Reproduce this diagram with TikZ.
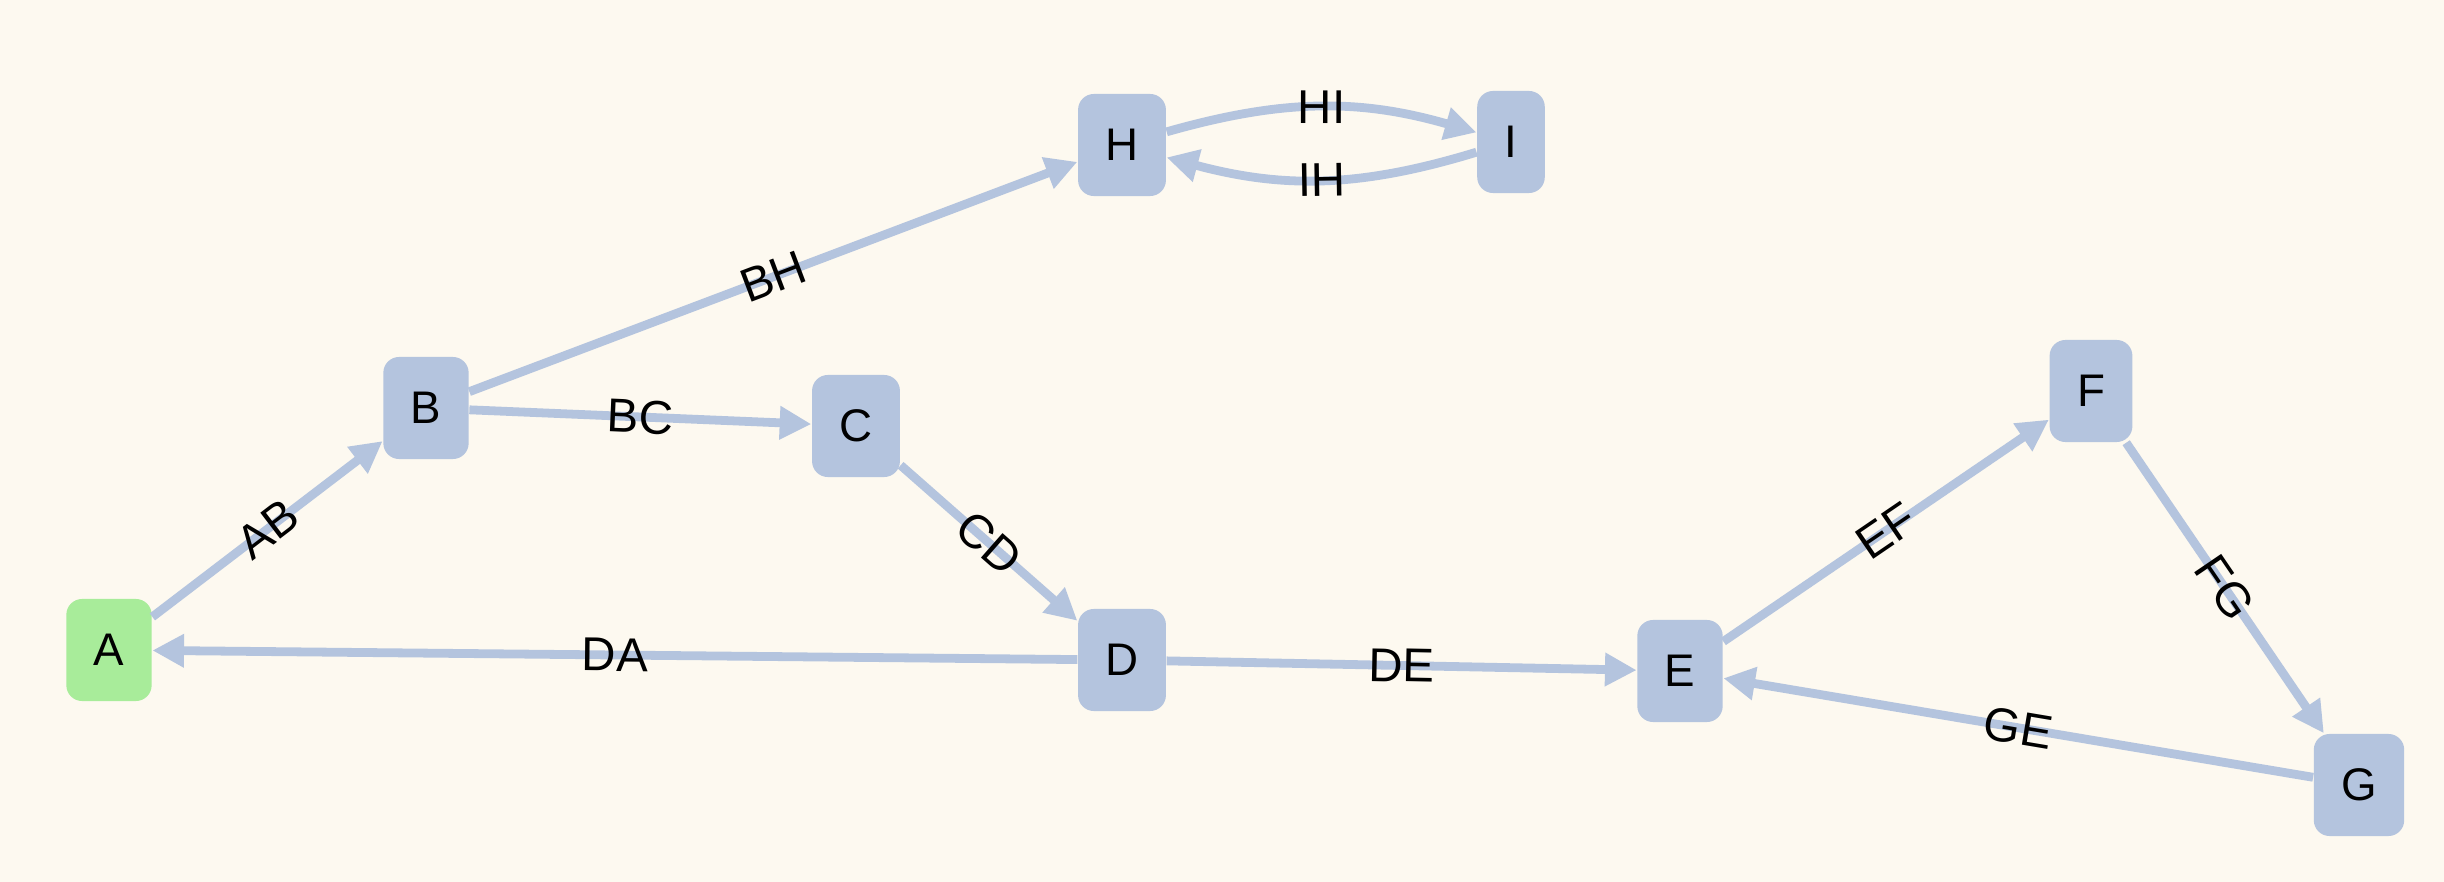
\documentclass[tikz,border=0pt]{standalone}
\usepackage{fontspec}
\setmainfont{Liberation Sans}
\usetikzlibrary{arrows.meta,positioning}
\definecolor{bgcream}{HTML}{FDF9F0}
\definecolor{nodeblue}{HTML}{B4C4DE}
\definecolor{nodegreen}{HTML}{A8EC9A}
\definecolor{edgeblue}{HTML}{B4C4DE}

\begin{document}
\begin{tikzpicture}[x=0.01cm, y=-0.01cm,
    vertex/.style={rectangle, rounded corners=4.5pt, fill=nodeblue, minimum height=1.02cm, inner xsep=7.8pt, font=\fontsize{13}{15}\selectfont},
    startvertex/.style={vertex, fill=nodegreen},
    link/.style={draw=edgeblue, line width=2.5pt, -{Triangle[length=9pt,width=9pt]}},
    lbl/.style={midway, sloped, inner sep=0pt, font=\fontsize{13.5}{15}\selectfont}]
    % Background
    \fill[bgcream] (0,0) rectangle (2444,882);

    % Nodes
    \node[startvertex] (A) at (109,650) {A};
    \node[vertex] (B) at (426,408) {B};
    \node[vertex] (C) at (856,426) {C};
    \node[vertex] (D) at (1122,660) {D};
    \node[vertex] (E) at (1680,671) {E};
    \node[vertex] (F) at (2091,391) {F};
    \node[vertex] (G) at (2359,785) {G};
    \node[vertex] (H) at (1122,145) {H};
    \node[vertex] (I) at (1511,142) {I};

    % Edges
    \draw[link] (A) -- node[lbl] {AB} (B);
    \draw[link] (B) -- node[lbl] {BC} (C);
    \draw[link] (B) -- node[lbl] {BH} (H);
    \draw[link] (C) -- node[lbl] {CD} (D);
    \draw[link] (D) -- node[lbl] {DA} (A);
    \draw[link] (D) -- node[lbl] {DE} (E);
    \draw[link] (E) -- node[lbl] {EF} (F);
    \draw[link] (F) -- node[lbl] {FG} (G);
    \draw[link] (G) -- node[lbl] {GE} (E);
    \draw[link] (H) to[bend left=16] node[lbl] {HI} (I);
    \draw[link] (I) to[bend left=16] node[lbl] {IH} (H);
\end{tikzpicture}
\end{document}
